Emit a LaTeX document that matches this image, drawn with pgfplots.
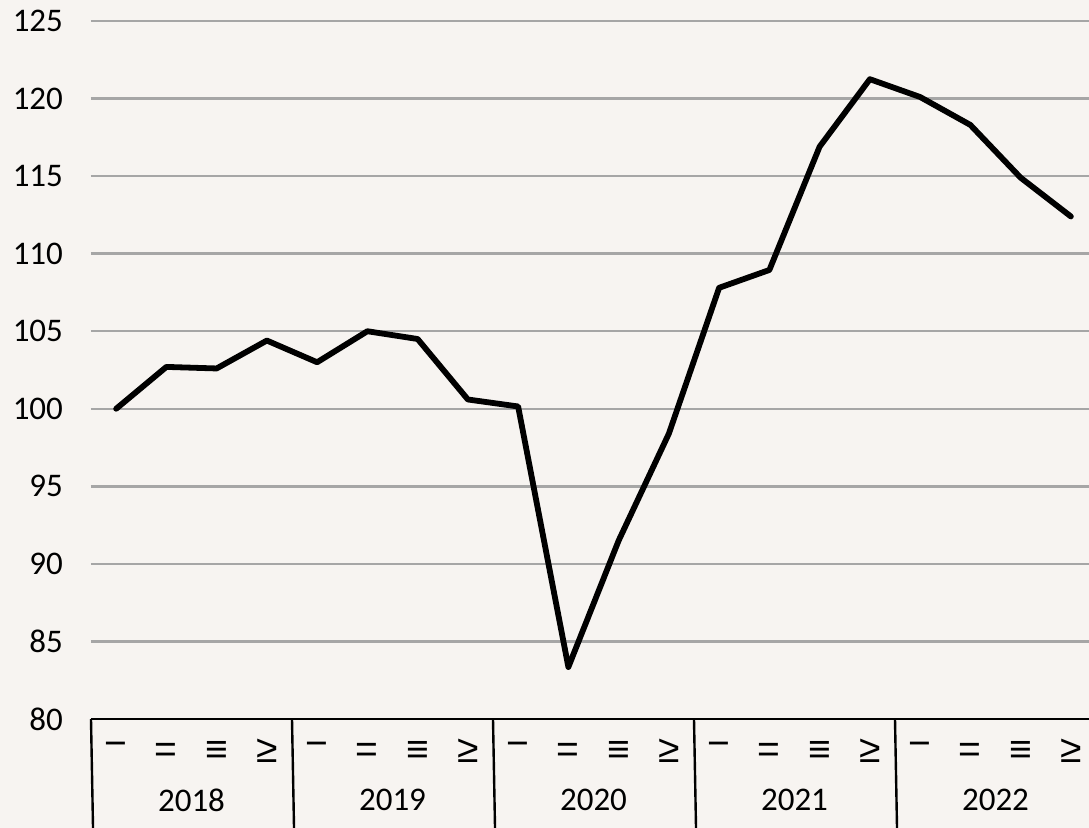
\documentclass[border=0pt]{standalone}
\usepackage{fontspec}
\setmainfont{Carlito}
\newfontfamily\qfont{Liberation Sans}
\usepackage{pgfplots}
\pgfplotsset{compat=1.18}
\definecolor{bg}{HTML}{F7F4F1}
\definecolor{gridc}{HTML}{A6A6A6}
\newcommand{\qa}{\raisebox{3bp}{−}}
\begin{document}
\fontsize{16bp}{19bp}\selectfont
\begin{tikzpicture}
\fill[bg] (-45.5bp,-54.5bp) rectangle (499bp,359.5bp);
\begin{axis}[
  at={(0,0)}, anchor=south west,
  scale only axis,
  width=502.5bp, height=349bp,
  xmin=-0.5, xmax=19.5,
  ymin=80, ymax=125,
  ytick={80,85,...,125},
  xtick={0,...,19},
  xticklabels={\qa,=,≡,≥,\qa,=,≡,≥,\qa,=,≡,≥,\qa,=,≡,≥,\qa,=,≡,≥},
  /pgf/number format/assume math mode=true,
  ymajorgrids,
  grid style={gridc, line width=1.2bp},
  major tick length=0pt,
  axis line style={draw=none},
  y tick label style={anchor=east, xshift=-8.5bp, font=\fontsize{16.5bp}{19bp}\selectfont},
  x tick label style={anchor=base, inner sep=0pt, yshift=-21.5bp, font=\qfont\fontsize{19.5bp}{22bp}\selectfont},
  clip=false,
]
\addplot[black, line width=2.9bp, line join=round, line cap=round] coordinates {
(0,100.0) (1,102.7) (2,102.6) (3,104.4)
(4,103.0) (5,105.0) (6,104.5) (7,100.6)
(8,100.15) (9,83.35) (10,91.5) (11,98.4)
(12,107.8) (13,108.95) (14,116.9) (15,121.25)
(16,120.1) (17,118.3) (18,114.9) (19,112.4)
};
\draw[black, line width=1.2bp] (axis cs:-0.5,80) -- (axis cs:19.5,80);
\pgfplotsinvokeforeach{-0.5,3.5,7.5,11.5,15.5,19.5}{
  \draw[black, line width=1.2bp] (axis cs:#1,80) -- ++(0,-56bp);
}
\node[font=\fontsize{16.5bp}{19bp}\selectfont] at ([yshift=-40.5bp]axis cs:1.5,80) {2018};
\node[font=\fontsize{16.5bp}{19bp}\selectfont] at ([yshift=-40.5bp]axis cs:5.5,80) {2019};
\node[font=\fontsize{16.5bp}{19bp}\selectfont] at ([yshift=-40.5bp]axis cs:9.5,80) {2020};
\node[font=\fontsize{16.5bp}{19bp}\selectfont] at ([yshift=-40.5bp]axis cs:13.5,80) {2021};
\node[font=\fontsize{16.5bp}{19bp}\selectfont] at ([yshift=-40.5bp]axis cs:17.5,80) {2022};
\end{axis}
\pgfresetboundingbox
\useasboundingbox (-45.5bp,-54.5bp) rectangle (499bp,359.5bp);
\end{tikzpicture}
\end{document}
